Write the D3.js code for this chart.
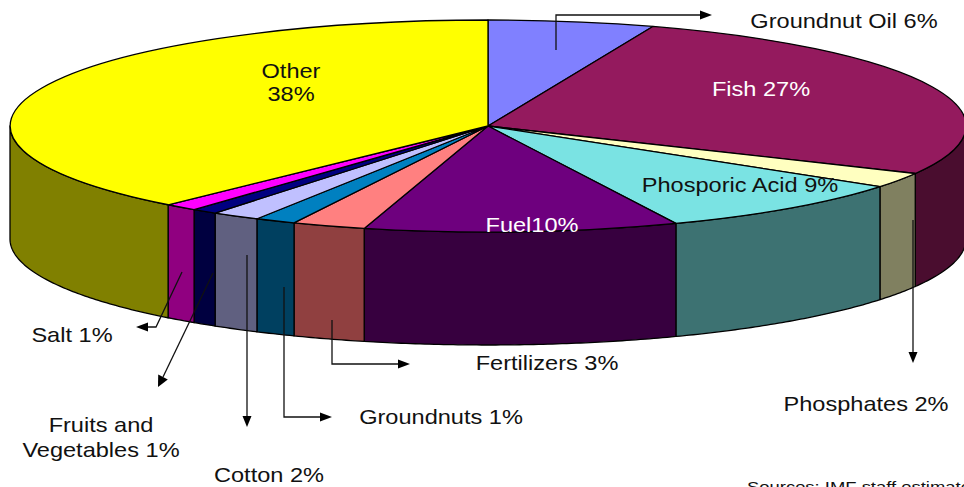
<!DOCTYPE html>
<html><head><meta charset="utf-8">
<script src="https://cdn.jsdelivr.net/npm/d3@7"></script>
<style>html,body{margin:0;padding:0;background:#fff;overflow:hidden}svg{display:block}text{font-family:"Liberation Sans",Arial,sans-serif}</style>
</head><body><div id="c"></div>
<script>
const categories=["Groundnut Oil","Fish","Phosphates","Phosporic Acid","Fuel","Fertilizers","Groundnuts","Cotton","Fruits and Vegetables","Salt","Other"];
const shares=[5.6,26.8,2.3,8.87,10.6,2.48,1.38,1.64,0.87,1.13,38.33];
const topColors=["#8080ff","#941a5e","#ffffc0","#7ae3e3","#6e007e","#ff8080","#0080c0","#c0c0ff","#000080","#ff00ff","#ffff00"];
const sideColors=["#404080","#4a0d2f","#808060","#3d7272","#37003f","#904040","#004060","#606080","#000040","#900080","#808000"];
const labelTexts=[
 {t:["Groundnut Oil 6%"],x:844,y:28,c:"#111"},
 {t:["Fish 27%"],x:761,y:96,c:"#fff"},
 {t:["Phosphates 2%"],x:866,y:411,c:"#111"},
 {t:["Phosporic Acid 9%"],x:740,y:192,c:"#111"},
 {t:["Fuel10%"],x:532,y:232,c:"#fff"},
 {t:["Fertilizers 3%"],x:547,y:370,c:"#111"},
 {t:["Groundnuts 1%"],x:441,y:424,c:"#111"},
 {t:["Cotton 2%"],x:269,y:482.5,c:"#111"},
 {t:["Fruits and","Vegetables 1%"],x:101,y:432,c:"#111"},
 {t:["Salt 1%"],x:72,y:342,c:"#111"},
 {t:["Other","38%"],x:291,y:78,c:"#111",gap:23.5}
];
const leaders=[
 {pts:[[556,50],[556,15],[700,15]],dir:"e"},
 {pts:[[182,272],[156,327],[148,327]],dir:"w"},
 {pts:[[213,273],[163,377]],dir:"sw"},
 {pts:[[247,255],[247,416]],dir:"s"},
 {pts:[[284,287],[284,417],[320,417]],dir:"e"},
 {pts:[[332,320],[332,364],[398,364]],dir:"e"},
 {pts:[[913,220],[913,352]],dir:"s"}
];
const W=964,H=487,cx=488,cy=126,rx=478,ry=106,depth=113,fs=20.5,xStretch=1.15;
const svg=d3.select("#c").append("svg").attr("width",W).attr("height",H).attr("viewBox",[0,0,W,H]);
const pie=d3.pie().sort(null).value(d=>d)(shares);
const px=a=>cx+rx*Math.sin(a), py=a=>cy-ry*Math.cos(a);
const line=d3.line();
function wall(a0,a1){
  const s=Math.max(a0,Math.PI/2), e=Math.min(a1,Math.PI*1.5);
  if(e<=s) return null;
  const n=Math.max(2,Math.ceil((e-s)/0.01));
  const as=d3.range(n+1).map(i=>s+(e-s)*i/n);
  const up=as.map(a=>[px(a),py(a)]);
  const dn=as.slice().reverse().map(a=>[px(a),py(a)+depth]);
  return line(up.concat(dn))+"Z";
}
svg.append("g").selectAll("path").data(pie).join("path")
  .attr("d",d=>wall(d.startAngle,d.endAngle))
  .attr("fill",(d,i)=>sideColors[i]).attr("stroke","#000").attr("stroke-width",1.3).attr("stroke-linejoin","round");
const arc=d3.arc().innerRadius(0).outerRadius(1);
svg.append("g").attr("transform",`translate(${cx},${cy}) scale(${rx},${ry})`)
  .selectAll("path").data(pie).join("path")
  .attr("d",d=>arc(d)).attr("fill",(d,i)=>topColors[i])
  .attr("stroke","#000").attr("stroke-width",1.3).attr("vector-effect","non-scaling-stroke").attr("stroke-linejoin","round");
const heads={e:[[0,-4.5],[12,0],[0,4.5]],w:[[0,-4.5],[-12,0],[0,4.5]],s:[[-4.5,0],[0,11],[4.5,0]],sw:[[-4.8,-2.4],[-5,10],[4.8,2.4]]};
const lg=svg.append("g");
leaders.forEach(l=>{
  lg.append("path").attr("d",line(l.pts)).attr("fill","none").attr("stroke","#111").attr("stroke-width",1.3);
  const e=l.pts[l.pts.length-1];
  lg.append("path").attr("d",line(heads[l.dir].map(p=>[p[0]+e[0],p[1]+e[1]]))+"Z").attr("fill","#000");
});
const tg=svg.append("g");
labelTexts.forEach(l=>{
  const t=tg.append("text").attr("text-anchor","middle").attr("font-size",fs).attr("fill",l.c)
    .attr("transform",`translate(${l.x},0) scale(${xStretch},1)`);
  l.t.forEach((s,i)=>t.append("tspan").attr("x",0).attr("y",l.y+i*(l.gap||25)).text(s));
});
tg.append("text").attr("transform",`translate(747,492) scale(1.19,1)`).attr("font-size",15.5).attr("fill","#111").text("Sources: IMF staff estimates.");
</script></body></html>
